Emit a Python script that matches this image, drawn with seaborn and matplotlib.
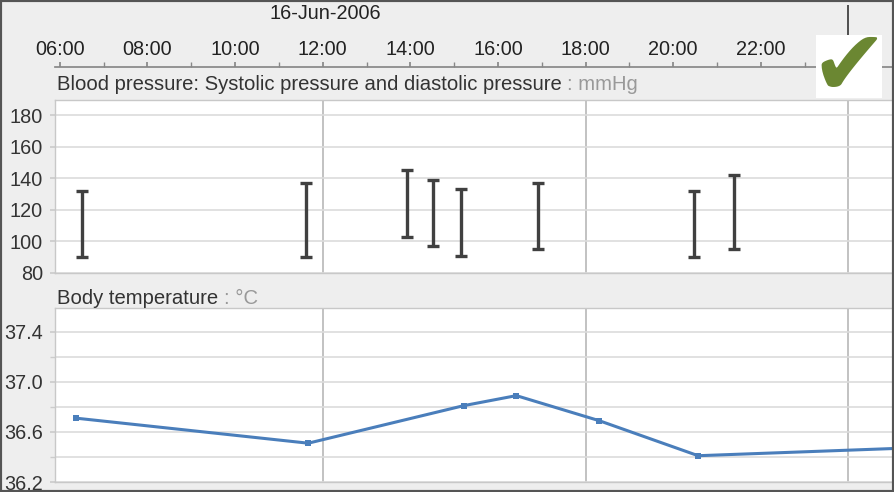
import numpy as np
import pandas as pd
import matplotlib
matplotlib.use('Agg')
import matplotlib.pyplot as plt
import seaborn as sns
from matplotlib.patches import Rectangle

# Dados (horas do dia 16-Jun-2006)
bp_hours = [6.50, 11.62, 13.92, 14.52, 15.16, 16.91, 20.47, 21.38]
systolic = [132, 137, 145, 139, 133, 137, 132, 142]
diastolic = [90, 90, 103, 97, 91, 95, 90, 95]

temp_hours = [6.37, 11.67, 15.22, 16.42, 18.31, 20.57, 26.0]
temp_values = [36.71, 36.51, 36.81, 36.89, 36.69, 36.41, 36.48]

hour_ticks = [6, 8, 10, 12, 14, 16, 18, 20, 22]
hour_minor = [7, 9, 11, 13, 15, 17, 19, 21, 23]
day_dividers = [12, 18, 24]
bp_ticks = [80, 100, 120, 140, 160, 180]
temp_ticks = [36.2, 36.6, 37.0, 37.4]
temp_minor = [36.4, 36.8, 37.2]

date_label = '16-Jun-2006'
bp_title = 'Blood pressure: Systolic pressure and diastolic pressure'
bp_unit = ': mmHg'
temp_title = 'Body temperature'
temp_unit = ': °C'

W, H = 894, 492
XLIM = (5.89, 25.04)

sns.set_theme(style='white')
plt.rcParams['font.family'] = ['Liberation Sans', 'DejaVu Sans']

fig = plt.figure(figsize=(W / 100, H / 100), dpi=100, facecolor='#eeeeee')


# Converte uma caixa em pixels (origem no topo) para fração da figura
def frac(x0, y0, x1, y1):
    return [x0 / W, 1 - y1 / H, (x1 - x0) / W, (y1 - y0) / H]


# Eixo de tempo no topo
ax_top = fig.add_axes(frac(55, 5, 894, 67))
ax_top.set_facecolor('none')
ax_top.set_xlim(*XLIM)
ax_top.set_ylim(0, 1)
for s in ['top', 'left', 'right']:
    ax_top.spines[s].set_visible(False)
ax_top.spines['bottom'].set_color('#888888')
ax_top.set_yticks([])
ax_top.set_xticks(hour_ticks)
ax_top.set_xticks(hour_minor, minor=True)
ax_top.set_xticklabels([f'{h:02d}:00' for h in hour_ticks])
ax_top.tick_params(axis='x', which='both', direction='in', length=3.5, color='#888888',
                   bottom=True, top=False)
ax_top.tick_params(axis='x', which='major', labelsize=14.3, labelcolor='#222222', pad=-19.5)
ax_top.axvline(24, color='#333333', lw=1.2)
ax_top.text(12.05, 0.86, date_label, transform=ax_top.get_xaxis_transform(),
            ha='center', va='center', fontsize=14.3, color='#222222')


def style_panel(ax, ylim):
    ax.set_facecolor('white')
    ax.set_xlim(*XLIM)
    ax.set_ylim(*ylim)
    for s in ax.spines.values():
        s.set_color('#c8c8c8')
        s.set_linewidth(1)
    ax.set_xticks(day_dividers)
    ax.tick_params(axis='x', bottom=False, labelbottom=False)
    ax.grid(axis='x', color='#b8b8b8', lw=1.2)
    ax.grid(axis='y', which='both', color='#dcdcdc', lw=1.2)
    ax.tick_params(axis='y', which='both', left=True, length=3.6, color='#cccccc',
                   labelsize=14.3, labelcolor='#333333', pad=5)
    ax.set_xlabel('')
    ax.set_ylabel('')


# Painel da pressão arterial
ax_bp = fig.add_axes(frac(55, 100, 894, 273))
bp_mid = (np.array(systolic) + np.array(diastolic)) / 2
bp_err = (np.array(systolic) - np.array(diastolic)) / 2
ax_bp.errorbar(bp_hours, bp_mid, yerr=bp_err, fmt='none', ecolor='#404040',
               elinewidth=2.4, capsize=4.6, capthick=2.4, zorder=3)
style_panel(ax_bp, (80, 189.5))
ax_bp.set_yticks(bp_ticks)

# Painel da temperatura
ax_t = fig.add_axes(frac(55, 308, 894, 482))
temp_df = pd.DataFrame({'hour': temp_hours, 'temp': temp_values})
sns.lineplot(data=temp_df, x='hour', y='temp', ax=ax_t, color='#4a7ebb', linewidth=2.2,
             marker='s', markersize=4.5, markeredgewidth=0, sort=False, zorder=3)
style_panel(ax_t, (36.2, 37.59))
ax_t.set_yticks(temp_ticks)
ax_t.set_yticks(temp_minor, minor=True)
ax_t.set_yticklabels([f'{v:.1f}' for v in temp_ticks])

# Títulos dos painéis com as unidades em cinza
for ax, y, title, unit in [(ax_bp, 85, bp_title, bp_unit), (ax_t, 298, temp_title, temp_unit)]:
    t = fig.text(57 / W, 1 - y / H, title, va='center', ha='left', fontsize=14.6, color='#333333')
    ax.annotate(unit, xy=(1, 0), xycoords=t, xytext=(4, 0), textcoords='offset points',
                va='bottom', ha='left', fontsize=14.6, color='#999999', annotation_clip=False)

# Marca de verificação
fig.add_artist(Rectangle((816 / W, 1 - 98 / H), 66 / W, 63 / H, transform=fig.transFigure,
                         facecolor='white', edgecolor='none', zorder=5))
fig.text(849 / W, 1 - 69 / H, '\u2714', ha='center', va='center', fontsize=66,
         color='#6b8732', family='DejaVu Sans', zorder=6)

# Moldura externa
fig.add_artist(Rectangle((0, 0), 1, 1, transform=fig.transFigure, fill=False,
                         edgecolor='#555555', lw=3, zorder=10))

fig.savefig('out.png', dpi=100, facecolor=fig.get_facecolor())
